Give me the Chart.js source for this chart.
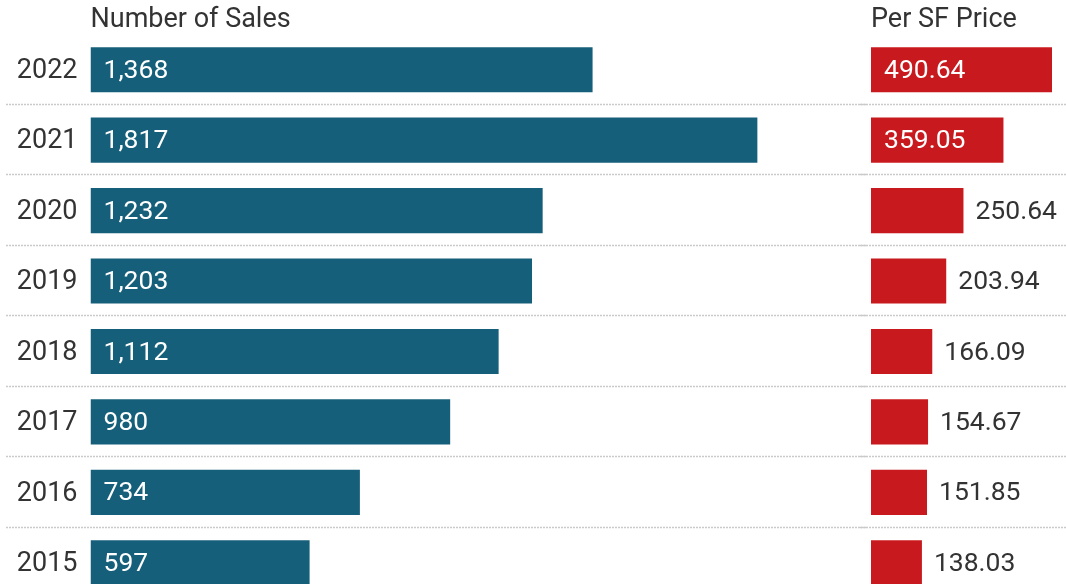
<!DOCTYPE html>
<html>
<head>
<meta charset="utf-8">
<script src="https://cdn.jsdelivr.net/npm/chart.js@4.4.1/dist/chart.umd.min.js"></script>
<style>
  html, body { margin: 0; padding: 0; background: #ffffff; overflow: hidden; }
  #wrap { position: relative; width: 1066px; height: 584px; overflow: hidden; background: #fff; }
  #left { position: absolute; left: 0; top: 0; }
  #right { position: absolute; left: 860px; top: 0; }
</style>
</head>
<body>
<div id="wrap">
  <canvas id="left" width="866" height="598"></canvas>
  <canvas id="right" width="206" height="598"></canvas>
</div>
<script>
const years = ['2022', '2021', '2020', '2019', '2018', '2017', '2016', '2015'];
const numberOfSales = [1368, 1817, 1232, 1203, 1112, 980, 734, 597];
const perSFPrice = [490.64, 359.05, 250.64, 203.94, 166.09, 154.67, 151.85, 138.03];
const salesTitle = 'Number of Sales';
const priceTitle = 'Per SF Price';

const FONT = 'Roboto';
const TEXT = '#333333';
const BLUE = '#165f7a';
const RED = '#c81a1e';

const separators = {
  id: 'separators',
  beforeDatasetsDraw(chart, args, opts) {
    const ctx = chart.ctx;
    const y = chart.scales.y;
    const n = chart.data.labels.length;
    ctx.save();
    ctx.strokeStyle = '#cacaca';
    ctx.lineWidth = 1.5;
    ctx.setLineDash([2, 1]);
    for (let i = 0; i < n; i++) {
      const a = y.getPixelForValue(i);
      const b = i + 1 < n ? y.getPixelForValue(i + 1) : a + (a - y.getPixelForValue(i - 1));
      const yy = Math.round((a + b) / 2) - 0.5;
      ctx.beginPath();
      ctx.moveTo(opts.x0 || 0, yy);
      ctx.lineTo(chart.width, yy);
      ctx.stroke();
    }
    ctx.restore();
  }
};

const valueLabels = {
  id: 'valueLabels',
  afterDatasetsDraw(chart, args, opts) {
    const ctx = chart.ctx;
    const meta = chart.getDatasetMeta(0);
    const data = chart.data.datasets[0].data;
    ctx.save();
    ctx.font = '26.5px ' + FONT;
    ctx.textBaseline = 'middle';
    ctx.textAlign = 'left';
    meta.data.forEach((bar, i) => {
      const txt = opts.format(data[i]);
      const w = ctx.measureText(txt).width;
      const left = Math.min(bar.x, bar.base);
      const barW = Math.abs(bar.x - bar.base);
      if (barW >= w + 24) {
        ctx.fillStyle = '#ffffff';
        ctx.fillText(txt, left + 13, bar.y + 1.5);
      } else {
        ctx.fillStyle = TEXT;
        ctx.fillText(txt, bar.x + 12, bar.y + 1.5);
      }
    });
    ctx.restore();
  }
};

function makeChart(id, values, color, title, xMax, padLeft, showYears, fmt, sepX0) {
  return new Chart(document.getElementById(id), {
    type: 'bar',
    data: {
      labels: years,
      datasets: [{
        data: values,
        backgroundColor: color,
        borderWidth: 0,
        categoryPercentage: 1,
        barPercentage: 0.64
      }]
    },
    options: {
      indexAxis: 'y',
      responsive: false,
      animation: false,
      events: [],
      layout: { padding: { left: padLeft, right: 0, top: 0, bottom: 0 } },
      plugins: {
        legend: { display: false },
        tooltip: { enabled: false },
        valueLabels: { format: fmt },
        separators: { x0: sepX0 }
      },
      scales: {
        x: {
          position: 'top',
          min: 0,
          max: xMax,
          grid: { display: false, drawTicks: false },
          border: { display: false },
          ticks: { display: false },
          title: {
            display: true,
            text: title,
            align: 'start',
            color: TEXT,
            font: { family: FONT, size: 27 },
            padding: { top: 4.5, bottom: 0 }
          },
          afterFit(s) { s.height = 34.5; s.paddingLeft = 0; s.paddingRight = 0; }
        },
        y: {
          display: true,
          grid: { display: false, drawTicks: false },
          border: { display: false },
          ticks: {
            display: showYears,
            color: TEXT,
            padding: 13,
            labelOffset: 1.5,
            font: { family: FONT, size: 27 }
          },
          afterFit(s) {
            s.width = showYears ? 90.5 : 0;
            s.paddingTop = 0;
            s.paddingBottom = 0;
          }
        }
      }
    },
    plugins: [separators, valueLabels]
  });
}

makeChart('left', numberOfSales, BLUE, salesTitle, 2113, 0, true,
  v => v.toLocaleString('en-US'), 6);
makeChart('right', perSFPrice, RED, priceTitle, 528.6, 11, false,
  v => v.toFixed(2), 0);
</script>
</body>
</html>
